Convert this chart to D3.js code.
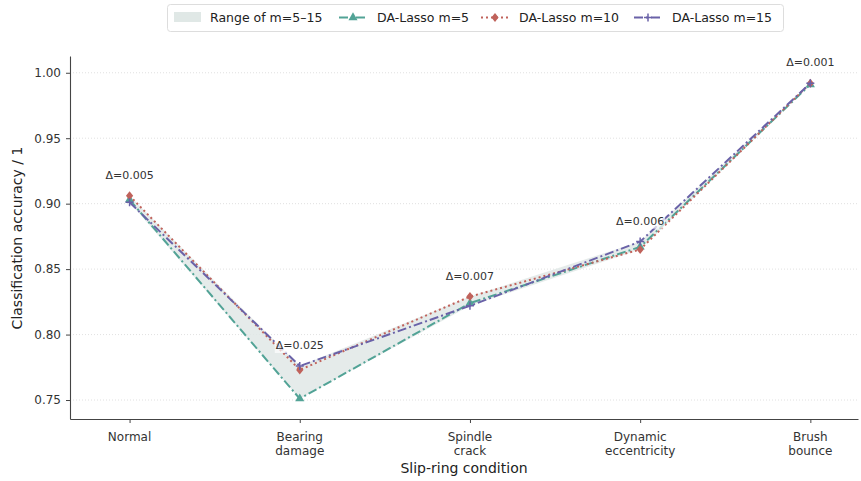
<!DOCTYPE html>
<html>
<head>
<meta charset="utf-8">
<script src="https://cdn.jsdelivr.net/npm/d3@7"></script>
<style>
  body { margin: 0; background: #fff; }
  text { font-family: "DejaVu Sans", sans-serif; }
</style>
</head>
<body>
<script>
'use strict';

const categories = [["Normal"], ["Bearing", "damage"], ["Spindle", "crack"], ["Dynamic", "eccentricity"], ["Brush", "bounce"]];
const m5 = [0.903, 0.751, 0.824, 0.867, 0.991];
const m10 = [0.906, 0.773, 0.829, 0.865, 0.992];
const m15 = [0.901, 0.776, 0.822, 0.871, 0.992];
const yTicks = [0.75, 0.80, 0.85, 0.90, 0.95, 1.00];

(function() {
  let width = 861;
  let height = 481;
  let svg = d3.select('body').append('svg')
    .attr('width', width)
    .attr('height', height);

  let xScale = d3.scaleLinear().domain([-0.35, 4.28]).range([70, 858]);
  let yScale = d3.scaleLinear().domain([0.7355, 1.0128]).range([419, 56]);

  // grid
  svg.append('g').selectAll('line')
    .data(yTicks)
    .enter().append('line')
    .attr('x1', 70).attr('x2', 858)
    .attr('y1', d => yScale(d)).attr('y2', d => yScale(d))
    .attr('stroke', '#d9d9d9')
    .attr('stroke-width', 0.8)
    .attr('stroke-dasharray', '1,2');

  // range band
  let idx = d3.range(categories.length);
  let lo = idx.map(i => Math.min(m5[i], m10[i], m15[i]));
  let hi = idx.map(i => Math.max(m5[i], m10[i], m15[i]));
  let area = d3.area()
    .x(i => xScale(i))
    .y0(i => yScale(lo[i]))
    .y1(i => yScale(hi[i]));
  svg.append('path')
    .datum(idx)
    .attr('d', area)
    .attr('fill', '#e0e8e6')
    .attr('fill-opacity', 0.85);

  let series = [
    { name: 'DA-Lasso m=5', vals: m5, color: '#52a396', dash: '9,3,2,3', marker: 'tri' },
    { name: 'DA-Lasso m=10', vals: m10, color: '#c0625b', dash: '2,3', marker: 'dia' },
    { name: 'DA-Lasso m=15', vals: m15, color: '#6a62a8', dash: '9,3,2,3', marker: 'plus' }
  ];

  function drawMarker(g, type, x, y, color) {
    if (type === 'tri') {
      g.append('path').attr('d', d3.symbol(d3.symbolTriangle, 36)())
        .attr('transform', 'translate(' + x + ',' + y + ')')
        .attr('fill', color);
    } else if (type === 'dia') {
      g.append('path').attr('d', 'M0,-4.5L3.6,0L0,4.5L-3.6,0Z')
        .attr('transform', 'translate(' + x + ',' + y + ')')
        .attr('fill', color);
    } else {
      g.append('path').attr('d', 'M-4,0H4M0,-4V4')
        .attr('transform', 'translate(' + x + ',' + y + ')')
        .attr('stroke', color).attr('stroke-width', 1.5).attr('fill', 'none');
    }
  }

  let line = d3.line().x((d, i) => xScale(i)).y(d => yScale(d));
  series.forEach(s => {
    let g = svg.append('g');
    g.append('path')
      .datum(s.vals)
      .attr('d', line)
      .attr('fill', 'none')
      .attr('stroke', s.color)
      .attr('stroke-width', 2)
      .attr('stroke-dasharray', s.dash);
    s.vals.forEach((v, i) => drawMarker(g, s.marker, xScale(i), yScale(v), s.color));
  });

  // delta labels with light box
  let dl = svg.append('g').selectAll('g')
    .data(idx)
    .enter().append('g');
  dl.append('rect')
    .attr('x', i => xScale(i) - 25)
    .attr('y', i => yScale(hi[i]) - 28)
    .attr('width', 50).attr('height', 15)
    .attr('fill', '#fff').attr('fill-opacity', 0.7);
  dl.append('text')
    .attr('x', i => xScale(i))
    .attr('y', i => yScale(hi[i]) - 17)
    .attr('text-anchor', 'middle')
    .style('font-size', '11px')
    .attr('fill', '#333')
    .text(i => '\u0394=' + (hi[i] - lo[i]).toFixed(3));

  // axes
  let yAxis = d3.axisLeft(yScale).tickValues(yTicks).tickFormat(d3.format('.2f')).tickSize(4).tickSizeOuter(0).tickPadding(5);
  let gy = svg.append('g').attr('transform', 'translate(70,0)').call(yAxis);
  let xAxis = d3.axisBottom(xScale).tickValues(idx).tickFormat('').tickSize(4).tickSizeOuter(0);
  let gx = svg.append('g').attr('transform', 'translate(0,419)').call(xAxis);
  [gx, gy].forEach(g => {
    g.select('.domain').attr('stroke', '#444').attr('stroke-width', 1.1);
    g.selectAll('.tick line').attr('stroke', '#444');
    g.selectAll('.tick text').style('font-size', '12px').attr('fill', '#333').style('font-family', '"DejaVu Sans", sans-serif');
  });

  let xl = svg.append('g').selectAll('text')
    .data(idx)
    .enter().append('text')
    .attr('x', i => xScale(i))
    .attr('y', 441)
    .attr('text-anchor', 'middle')
    .style('font-size', '12px')
    .attr('fill', '#333');
  xl.each(function(i) {
    let t = d3.select(this);
    categories[i].forEach((w, k) => {
      t.append('tspan').attr('x', xScale(i)).attr('dy', k === 0 ? 0 : 14).text(w);
    });
  });

  svg.append('text')
    .attr('x', 464).attr('y', 473)
    .attr('text-anchor', 'middle')
    .style('font-size', '14px')
    .attr('fill', '#222')
    .text('Slip-ring condition');

  svg.append('text')
    .attr('transform', 'translate(22,238)rotate(-90)')
    .attr('text-anchor', 'middle')
    .style('font-size', '14px')
    .attr('fill', '#222')
    .text('Classification accuracy / 1');

  // legend
  let lg = svg.append('g');
  lg.append('rect')
    .attr('x', 167.5).attr('y', 4.5).attr('width', 616).attr('height', 27)
    .attr('rx', 3)
    .attr('fill', '#fff').attr('stroke', '#ddd');
  lg.append('rect')
    .attr('x', 174).attr('y', 12).attr('width', 27).attr('height', 10)
    .attr('fill', '#e0e8e6');
  lg.append('text').attr('x', 210).attr('y', 22).style('font-size', '12.5px').attr('fill', '#222')
    .text('Range of m=5\u201315');
  let lx = [339, 481, 634];
  series.forEach((s, k) => {
    let x0 = lx[k];
    lg.append('line')
      .attr('x1', x0).attr('x2', x0 + 28).attr('y1', 17.5).attr('y2', 17.5)
      .attr('stroke', s.color).attr('stroke-width', 2).attr('stroke-dasharray', s.dash);
    drawMarker(lg, s.marker, x0 + 14, 17.5, s.color);
    lg.append('text').attr('x', x0 + 38).attr('y', 22).style('font-size', '12.5px').attr('fill', '#222')
      .text(s.name);
  });
})();
</script>
</body>
</html>
